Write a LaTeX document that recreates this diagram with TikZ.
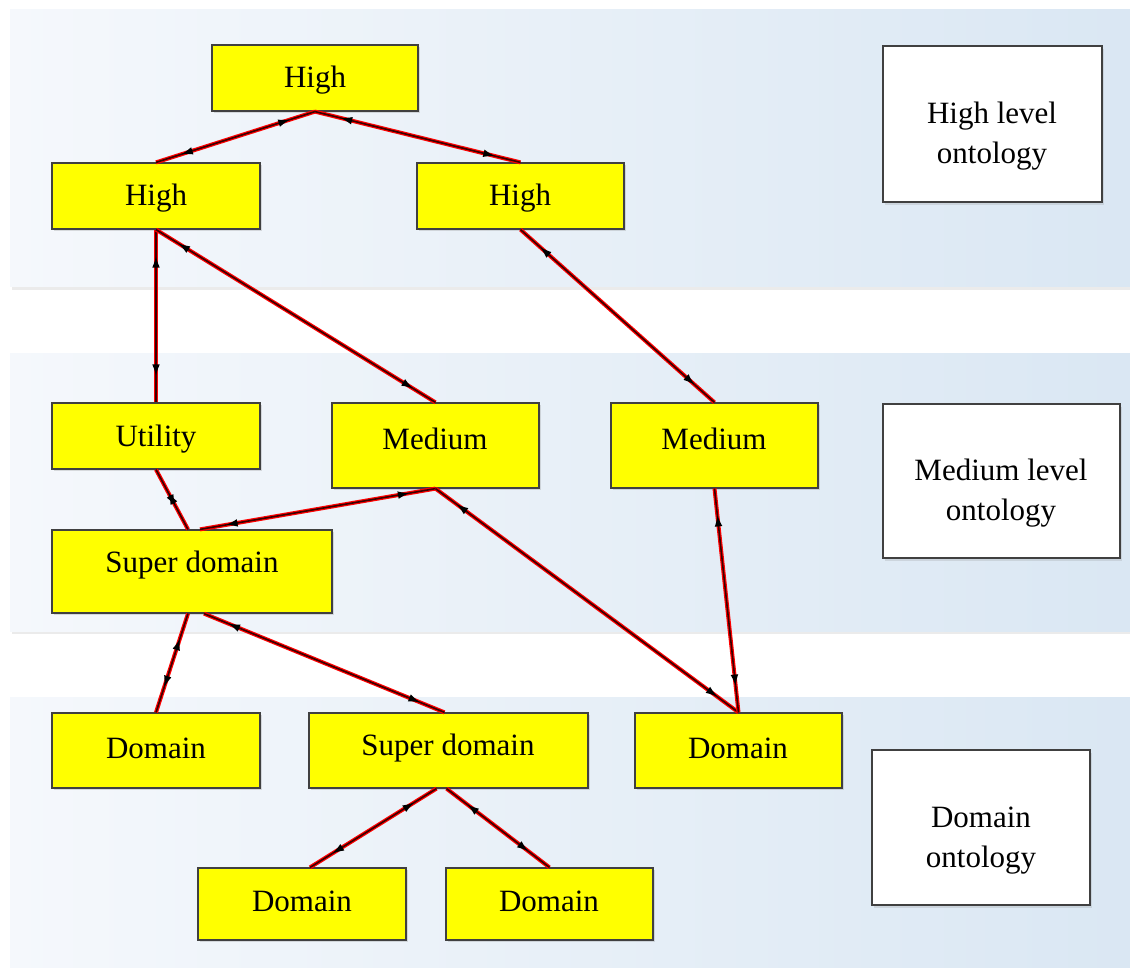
\documentclass[tikz,border=0pt]{standalone}
\usepackage{fontspec}
\setmainfont{Liberation Serif}
\usetikzlibrary{arrows.meta,decorations.markings,fit,shadows}

\definecolor{bandL}{HTML}{F5F8FC}
\definecolor{bandR}{HTML}{DAE7F3}
\definecolor{boxY}{HTML}{FFFF00}
\definecolor{linkcore}{HTML}{3A0000}

\tikzset{
  txt/.style={font=\fontsize{15.5}{20}\selectfont, inner sep=0pt, align=center, yshift=-1.5pt},
  ybox/.style={draw=black!75, line width=0.6pt, fill=boxY, inner sep=0pt,
    drop shadow={shadow xshift=1.2pt, shadow yshift=-1.2pt, opacity=0.25}},
  wbox/.style={draw=black!75, line width=0.7pt, fill=white, inner sep=0pt,
    drop shadow={shadow xshift=1.2pt, shadow yshift=-1.5pt, opacity=0.2}},
  band/.style={left color=bandL, right color=bandR},
  link/.style={draw=red, line width=2pt,
    postaction={draw=linkcore, line width=0.8pt},
    postaction={decorate},
    decoration={markings,
      mark=at position 11pt with {\arrowreversed[black]{Latex[length=8pt,width=3.6pt]}},
      mark=at position -11pt with {\arrow[black]{Latex[length=8pt,width=3.6pt]}}}}
}

\begin{document}
\begin{tikzpicture}[x=0.5pt,y=-0.5pt]
  \useasboundingbox (0,0) rectangle (1130,968);
  \fill[white] (0,0) rectangle (1130,968);

  % three level bands with a soft lower edge
  \foreach \ya/\yb in {10/287, 353/631, 697/968} {
    \fill[black!8] (12,\yb) rectangle (1130,\yb+3);
    \shade[band] (10,\ya) rectangle (1130,\yb);
  }

  % ontology nodes
  \node[ybox, fit={(212,45) (418,111)}] (hT) {};
  \node[ybox, fit={(52,163) (260,229)}] (hL) {};
  \node[ybox, fit={(417,163) (624,229)}] (hR) {};
  \node[ybox, fit={(52,403) (260,469)}] (ut) {};
  \node[ybox, fit={(332,403) (539,488)}] (m1) {};
  \node[ybox, fit={(611,403) (818,488)}] (m2) {};
  \node[ybox, fit={(52,530) (332,613)}] (sd) {};
  \node[ybox, fit={(52,713) (260,788)}] (d1) {};
  \node[ybox, fit={(309,713) (588,788)}] (sd2) {};
  \node[ybox, fit={(635,713) (842,788)}] (d3) {};
  \node[ybox, fit={(198,868) (406,940)}] (d4) {};
  \node[ybox, fit={(446,868) (653,940)}] (d5) {};

  \node[txt] (thT) at (315,77) {High};
  \node[txt] (thL) at (156,195) {High};
  \node[txt] (thR) at (520,195) {High};
  \node[txt] (tut) at (156,436) {Utility};
  \node[txt] (tm1) at (435,436) {Medium};
  \node[txt] (tm2) at (714,436) {Medium};
  \node[txt] (tsd) at (192,562) {Super domain};
  \node[txt] (td1) at (156,745) {Domain};
  \node[txt] (tsd2) at (448,745) {Super domain};
  \node[txt] (td3) at (738,745) {Domain};
  \node[txt] (td4) at (302,898) {Domain};
  \node[txt] (td5) at (549,898) {Domain};

  % level captions
  \node[wbox, fit={(883,46) (1102,202)}] (lh) {};
  \node[wbox, fit={(883,404) (1120,558)}] (lm) {};
  \node[wbox, fit={(872,750) (1090,905)}] (ld) {};
  \node[txt] (tlh) at (992,133) {High level\\ontology};
  \node[txt] (tlm) at (1001,490) {Medium level\\ontology};
  \node[txt] (tld) at (981,838) {Domain\\ontology};

  % relations
  \draw[link] (hT.south) -- (hL.north);
  \draw[link] (hT.south) -- (hR.north);
  \draw[link] (hL.south) -- (ut.north);
  \draw[link] (hL.south) -- (m1.north);
  \draw[link] (hR.south) -- (m2.north);
  \draw[link] (ut.south) -- ([xshift=-2pt]sd.north);
  \draw[link] (m1.south) -- ([xshift=4pt]sd.north);
  \draw[link] (m1.south) -- (d3.north);
  \draw[link] (m2.south) -- (d3.north);
  \draw[link] ([xshift=-2pt]sd.south) -- (d1.north);
  \draw[link] ([xshift=6pt]sd.south) -- ([xshift=-2pt]sd2.north);
  \draw[link] ([xshift=-6pt]sd2.south) -- ([xshift=4pt]d4.north);
  \draw[link] ([xshift=-1pt]sd2.south) -- (d5.north);
\end{tikzpicture}
\end{document}
